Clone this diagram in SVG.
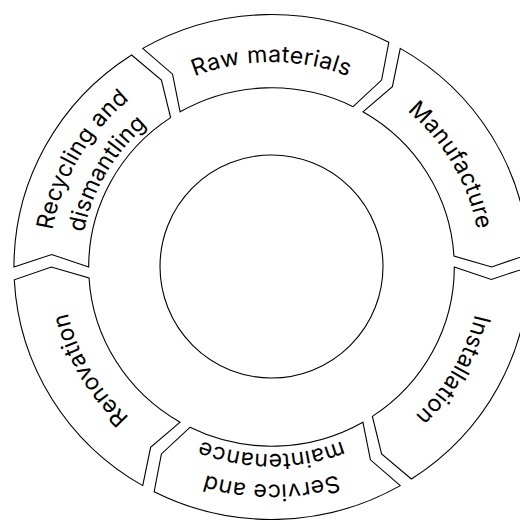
<svg xmlns="http://www.w3.org/2000/svg" width="520" height="521" viewBox="0 0 520 521">
<style>
.seg{fill:#fff;stroke:#000;stroke-width:1.1;stroke-linejoin:miter}
.lbl{font-family:Inter,"Liberation Sans",sans-serif;font-size:23px;letter-spacing:0.3px;fill:#000;text-anchor:middle}
.core{fill:#fff;stroke:#000;stroke-width:1.1}
</style>
<defs>
<path id="seg" d="M -127.5 -220.84 A 255 255 0 0 1 116.16 -227 L 109 -188.79 L 80.76 -161.98 A 181 181 0 0 0 -90.5 -156.75 L -97.95 -194.75 Z"/>
<path id="arc1" d="M -179.27 -103.5 A 207 207 0 0 1 179.27 -103.5"/>
<path id="arcA" d="M -190.53 -110 A 220 220 0 0 1 190.53 -110"/>
<path id="arcB" d="M -163.68 -94.5 A 189 189 0 0 1 163.68 -94.5"/>
</defs>
<rect width="520" height="521" fill="#fff"/>
<g transform="translate(271.5 267) scale(1.01 0.99)">
<g id="raw-materials">
<use href="#seg" class="seg"/>
<text class="lbl"><textPath href="#arc1" startOffset="50%">Raw materials</textPath></text>
</g>
<g id="manufacture" transform="rotate(60)">
<use href="#seg" class="seg"/>
<text class="lbl"><textPath href="#arc1" startOffset="50%">Manufacture</textPath></text>
</g>
<g id="installation" transform="rotate(120)">
<use href="#seg" class="seg"/>
<text class="lbl"><textPath href="#arc1" startOffset="50%">Installation</textPath></text>
</g>
<g id="service-and-maintenance" transform="rotate(180)">
<use href="#seg" class="seg"/>
<text class="lbl"><textPath href="#arcA" startOffset="50%">Service and</textPath></text>
<text class="lbl"><textPath href="#arcB" startOffset="50%">maintenance</textPath></text>
</g>
<g id="renovation" transform="rotate(240)">
<use href="#seg" class="seg"/>
<text class="lbl"><textPath href="#arc1" startOffset="50%">Renovation</textPath></text>
</g>
<g id="recycling-and-dismantling" transform="rotate(300)">
<use href="#seg" class="seg"/>
<text class="lbl"><textPath href="#arcA" startOffset="50%">Recycling and</textPath></text>
<text class="lbl"><textPath href="#arcB" startOffset="50%">dismantling</textPath></text>
</g>
</g>
<g id="core">
<circle class="core" cx="271.5" cy="266.5" r="111.5"/>
</g>
</svg>
